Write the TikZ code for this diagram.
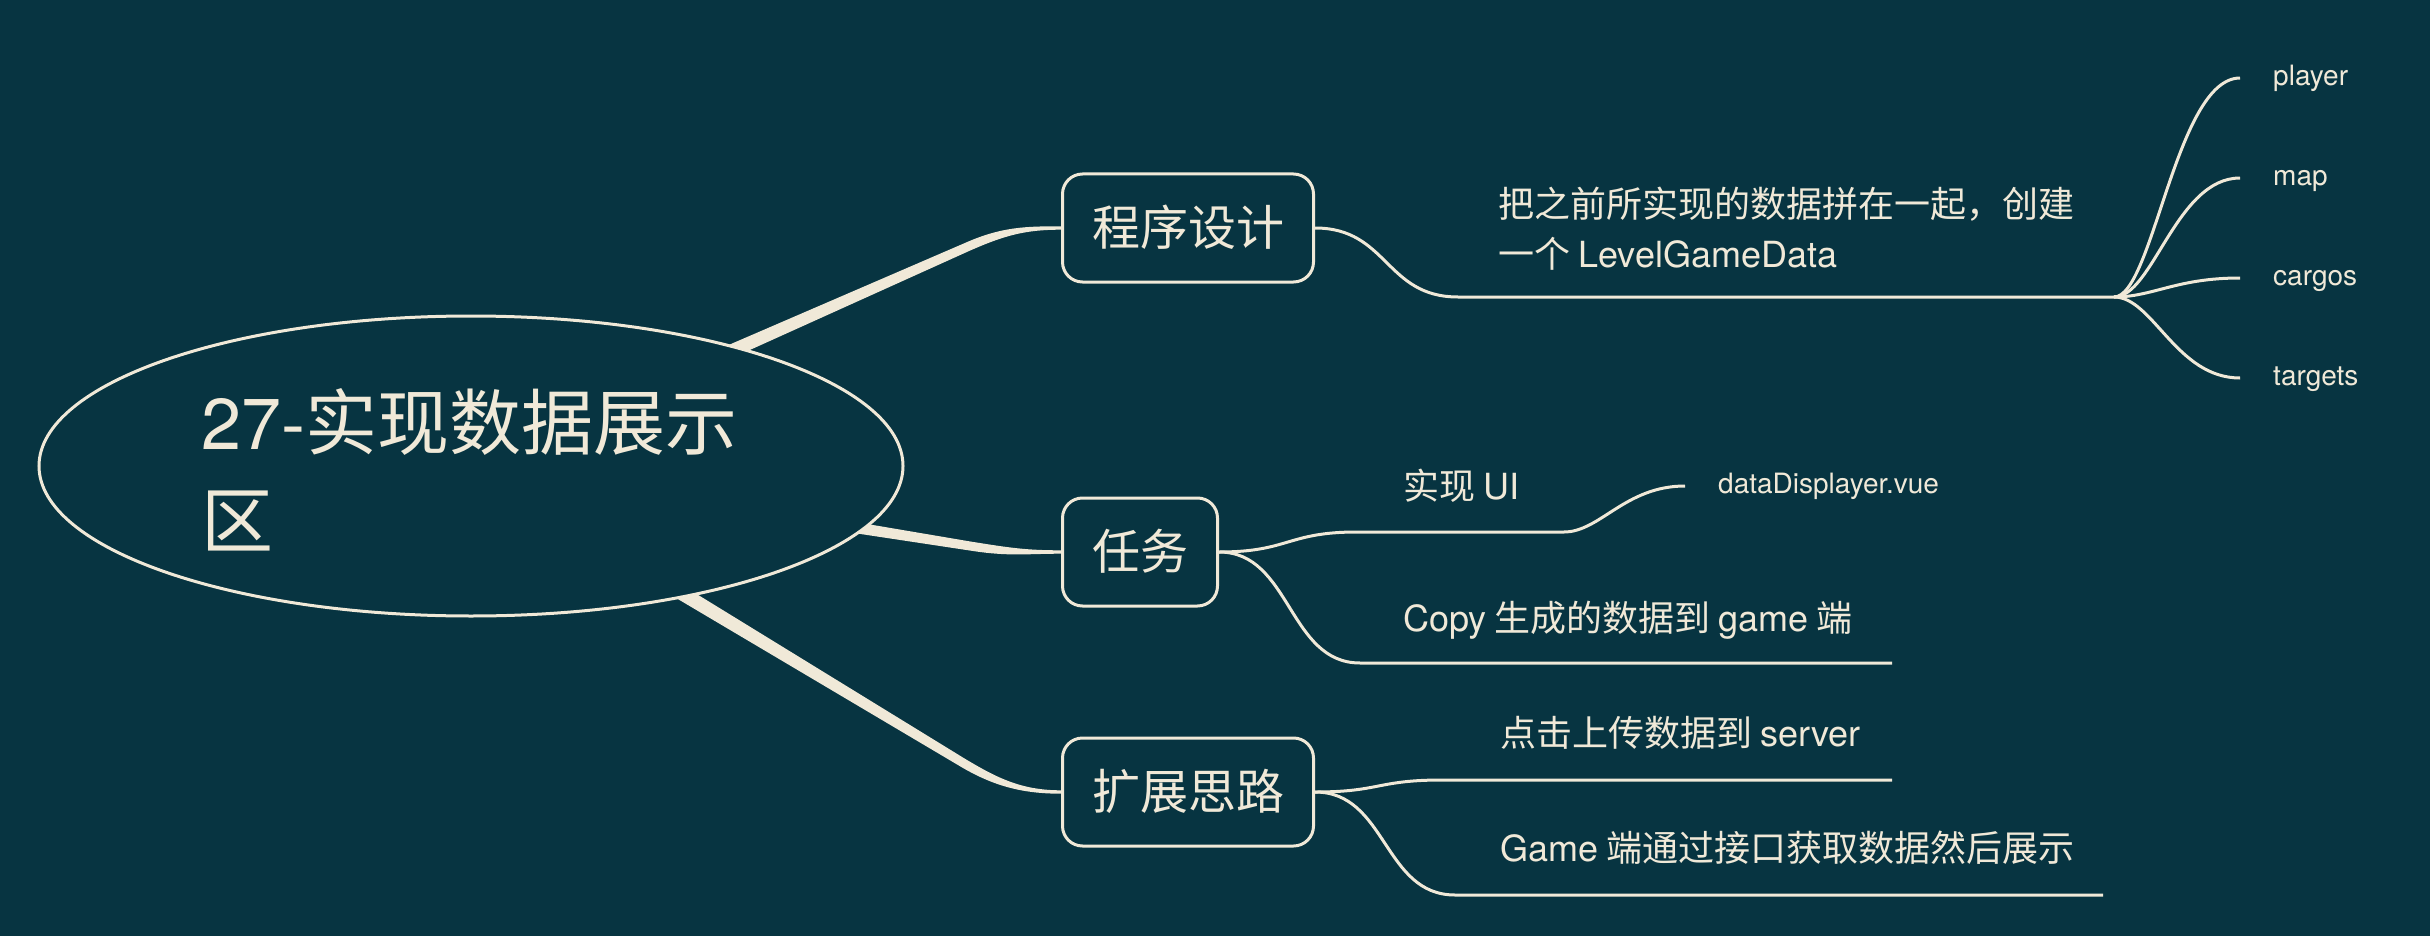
\documentclass[tikz,border=0pt]{standalone}
\usepackage{fontspec}
\setmainfont{Noto Sans CJK SC}
\newfontfamily\lat{TeX Gyre Heros}
\usetikzlibrary{shapes.geometric,calc}
\definecolor{bgc}{RGB}{7,52,65}
\definecolor{cream}{RGB}{240,233,216}
\pgfdeclarelayer{bglayer}
\pgfdeclarelayer{connlayer}
\pgfsetlayers{bglayer,connlayer,main}
\begin{document}
\begin{tikzpicture}[x=1pt,y=-1pt,
  topicbox/.style={draw=cream,line width=3pt,rounded corners=20pt,fill=bgc,text=cream,
    minimum height=108pt,inner xsep=29.5pt,inner ysep=0pt,anchor=west,
    font=\fontsize{48}{58}\selectfont,text height=41.3pt,text depth=5.8pt},
  subtopic/.style={text=cream,anchor=west,inner sep=0pt,font=\fontsize{36}{50}\selectfont,
    text height=31pt,text depth=4.3pt},
  multitopic/.style={text=cream,anchor=west,inner sep=0pt,align=left,font=\fontsize{36}{50}\selectfont},
  leaf/.style={text=cream,anchor=west,inner ysep=0pt,inner xsep=33pt,
    font=\fontsize{28}{34}\selectfont\lat,text height=20.2pt,text depth=5.6pt},
  thinline/.style={draw=cream,line width=3pt},
  taper/.style={fill=cream,draw=none}]

\begin{pgfonlayer}{bglayer}
\fill[bgc] (0,0) rectangle (2430,936);
\end{pgfonlayer}
\useasboundingbox (0,0) rectangle (2430,936);

% central topic
\node[ellipse,draw=cream,line width=3pt,fill=bgc,minimum width=864pt,minimum height=300pt,inner sep=0pt] (root) at (471,466) {};
\node[text=cream,anchor=west,align=left,inner sep=0pt,font=\fontsize{72}{98}\selectfont] (rootlabel) at (201,470) {{\lat 27-}实现数据展示\\区};

% main topics
\node[topicbox] (b1) at (1061,228) {程序设计};
\node[topicbox] (b2) at (1061,552) {任务};
\node[topicbox] (b3) at (1061,792) {扩展思路};

% sub topics
\node[multitopic] (t1) at (1498,229) {把之前所实现的数据拼在一起，创建\\一个 {\lat LevelGameData}};
\node[subtopic] (t2) at (1403,486) {实现 {\lat UI}};
\node[subtopic] (t3) at (1403,618) {{\lat Copy} 生成的数据到 {\lat game} 端};
\node[subtopic] (t4) at (1500,733) {点击上传数据到 {\lat server}};
\node[subtopic] (t5) at (1500,848) {{\lat Game} 端通过接口获取数据然后展示};

% leaves
\node[leaf] (l1) at (2240,78) {player};
\node[leaf] (l2) at (2240,178) {map};
\node[leaf] (l3) at (2240,278) {cargos};
\node[leaf] (l4) at (2240,378) {targets};
\node[leaf] (l5) at (1685,486) {dataDisplayer.vue};

% helper coordinates
\coordinate (k1) at (967,247);
\coordinate (k2) at (970,546);
\coordinate (k3) at (960,761);
\coordinate (u1s) at (1458,297); \coordinate (u1e) at (2114,297);
\coordinate (u2s) at (1357,532); \coordinate (u2e) at (1564,532);
\coordinate (u3s) at (1360,663); \coordinate (u3e) at (1892,663);
\coordinate (u4s) at (1442,780); \coordinate (u4e) at (1892,780);
\coordinate (u5s) at (1455,895); \coordinate (u5e) at (2103,895);

\begin{pgfonlayer}{connlayer}
% tapered main branches
\fill[taper] ([shift={(-3.64,-8.24)}]root.center) -- ([shift={(-1.82,-4.12)}]k1)
  .. controls +(36.6,-16.2) and +(-35,0) .. ([shift={(0,-1.7)}]b1.west)
  -- ([shift={(0,1.7)}]b1.west)
  .. controls +(-35,0) and +(36.6,-16.2) .. ([shift={(1.82,4.12)}]k1)
  -- ([shift={(3.64,8.24)}]root.center) -- cycle;
\fill[taper] ([shift={(1.42,-8.88)}]root.center) -- ([shift={(0.71,-4.44)}]k2)
  .. controls +(39.5,6.3) and +(-35,0) .. ([shift={(0,-1.7)}]b2.west)
  -- ([shift={(0,1.7)}]b2.west)
  .. controls +(-35,0) and +(39.5,6.3) .. ([shift={(-0.71,4.44)}]k2)
  -- ([shift={(-1.42,8.88)}]root.center) -- cycle;
\fill[taper] ([shift={(4.65,-7.70)}]root.center) -- ([shift={(2.33,-3.85)}]k3)
  .. controls +(34.2,20.7) and +(-40,0) .. ([shift={(0,-1.7)}]b3.west)
  -- ([shift={(0,1.7)}]b3.west)
  .. controls +(-40,0) and +(34.2,20.7) .. ([shift={(-2.33,3.85)}]k3)
  -- ([shift={(-4.65,7.70)}]root.center) -- cycle;

% thin branches
\draw[thinline] (b1.east) .. controls +(73,0) and +(-73,0) .. (u1s) -- (u1e);
\draw[thinline] (b2.east) .. controls +(70,0) and +(-70,0) .. (u2s) -- (u2e);
\draw[thinline] (b2.east) .. controls +(72,0) and +(-72,0) .. (u3s) -- (u3e);
\draw[thinline] (b3.east) .. controls +(65,0) and +(-65,0) .. (u4s) -- (u4e);
\draw[thinline] (b3.east) .. controls +(72,0) and +(-72,0) .. (u5s) -- (u5e);
\draw[thinline] (u2e) .. controls +(36,0) and +(-60,0) .. (l5.west);
\draw[thinline] (u1e) .. controls +(39,0) and +(-64,0) .. (l1.west);
\draw[thinline] (u1e) .. controls +(39,0) and +(-64,0) .. (l2.west);
\draw[thinline] (u1e) .. controls +(39,0) and +(-64,0) .. (l3.west);
\draw[thinline] (u1e) .. controls +(39,0) and +(-64,0) .. (l4.west);
\end{pgfonlayer}
\end{tikzpicture}
\end{document}
